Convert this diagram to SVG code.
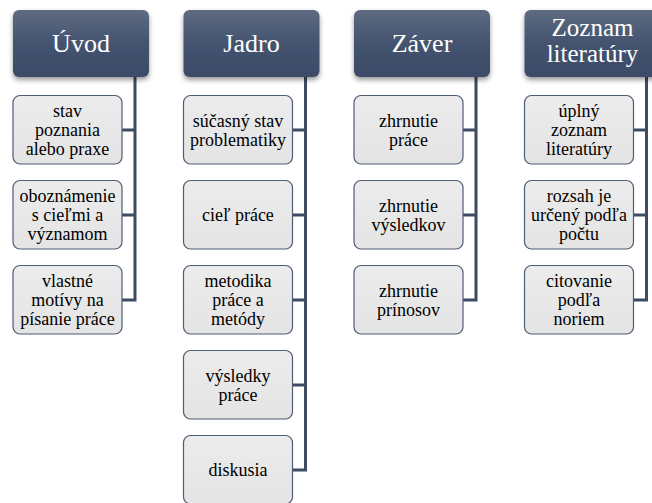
<svg xmlns="http://www.w3.org/2000/svg" width="652" height="503" viewBox="0 0 652 503">
<defs>
<linearGradient id="hg" x1="0" y1="0" x2="0" y2="1">
<stop offset="0" stop-color="#5e6b82"/>
<stop offset="0.5" stop-color="#44536f"/>
<stop offset="1" stop-color="#3c4b68"/>
</linearGradient>
<linearGradient id="cg" x1="0" y1="0" x2="0" y2="1">
<stop offset="0" stop-color="#ececec"/>
<stop offset="1" stop-color="#e4e4e4"/>
</linearGradient>
<filter id="sh" x="-10%" y="-10%" width="120%" height="130%">
<feDropShadow dx="0" dy="3" stdDeviation="2.5" flood-color="#000" flood-opacity="0.4"/>
</filter>
</defs>
<style>
.hd{fill:url(#hg);filter:url(#sh)}
.ch{fill:url(#cg);stroke:#4f5d75;stroke-width:1.2}
.cn{fill:none;stroke:#3d4b63;stroke-width:3}
</style>
<rect width="652" height="503" fill="#fff"/>
<g id="connectors">
<path class="cn" d="M135 77V300.5M122 130H136.5M122 215H136.5M122 300H136.5"/>
<path class="cn" d="M305.5 77V470.5M292.5 130H307M292.5 215H307M292.5 300H307M292.5 385H307M292.5 470H307"/>
<path class="cn" d="M476 77V300.5M463 130H477.5M463 215H477.5M463 300H477.5"/>
<path class="cn" d="M646.5 77V300.5M633.5 130H648M633.5 215H648M633.5 300H648"/>
</g>
<g font-family="'Liberation Serif', 'Times New Roman', serif" text-anchor="middle">
<g id="uvod">
<rect class="hd" x="13" y="10" width="136" height="67" rx="6"/>
<text x="81" y="52" font-size="26" fill="#fff">Úvod</text>
</g>
<g id="uvod-1"><rect class="ch" x="13" y="95.5" width="109" height="68.5" rx="7"/>
<text font-size="18"><tspan x="67.5" y="117">stav</tspan><tspan x="67.5" y="136">poznania</tspan><tspan x="67.5" y="155">alebo praxe</tspan></text></g>
<g id="uvod-2"><rect class="ch" x="13" y="180.5" width="109" height="68.5" rx="7"/>
<text font-size="18"><tspan x="67.5" y="202">oboznámenie</tspan><tspan x="67.5" y="221">s cieľmi a</tspan><tspan x="67.5" y="240">významom</tspan></text></g>
<g id="uvod-3"><rect class="ch" x="13" y="265.5" width="109" height="68.5" rx="7"/>
<text font-size="18"><tspan x="67.5" y="287">vlastné</tspan><tspan x="67.5" y="306">motívy na</tspan><tspan x="67.5" y="325">písanie práce</tspan></text></g>

<g id="jadro">
<rect class="hd" x="183.5" y="10" width="136" height="67" rx="6"/>
<text x="251.5" y="52" font-size="26" fill="#fff">Jadro</text>
</g>
<g id="jadro-1"><rect class="ch" x="183.5" y="95.5" width="109" height="68.5" rx="7"/>
<text font-size="18"><tspan x="238" y="126.5">súčasný stav</tspan><tspan x="238" y="145.5">problematiky</tspan></text></g>
<g id="jadro-2"><rect class="ch" x="183.5" y="180.5" width="109" height="68.5" rx="7"/>
<text font-size="18"><tspan x="238" y="221">cieľ práce</tspan></text></g>
<g id="jadro-3"><rect class="ch" x="183.5" y="265.5" width="109" height="68.5" rx="7"/>
<text font-size="18"><tspan x="238" y="287">metodika</tspan><tspan x="238" y="306">práce a</tspan><tspan x="238" y="325">metódy</tspan></text></g>
<g id="jadro-4"><rect class="ch" x="183.5" y="350.5" width="109" height="68.5" rx="7"/>
<text font-size="18"><tspan x="238" y="381.5">výsledky</tspan><tspan x="238" y="400.5">práce</tspan></text></g>
<g id="jadro-5"><rect class="ch" x="183.5" y="435.5" width="109" height="68.5" rx="7"/>
<text font-size="18"><tspan x="238" y="476">diskusia</tspan></text></g>

<g id="zaver">
<rect class="hd" x="354" y="10" width="136" height="67" rx="6"/>
<text x="422" y="52" font-size="26" fill="#fff">Záver</text>
</g>
<g id="zaver-1"><rect class="ch" x="354" y="95.5" width="109" height="68.5" rx="7"/>
<text font-size="18"><tspan x="408.5" y="126.5">zhrnutie</tspan><tspan x="408.5" y="145.5">práce</tspan></text></g>
<g id="zaver-2"><rect class="ch" x="354" y="180.5" width="109" height="68.5" rx="7"/>
<text font-size="18"><tspan x="408.5" y="211.5">zhrnutie</tspan><tspan x="408.5" y="230.5">výsledkov</tspan></text></g>
<g id="zaver-3"><rect class="ch" x="354" y="265.5" width="109" height="68.5" rx="7"/>
<text font-size="18"><tspan x="408.5" y="296.5">zhrnutie</tspan><tspan x="408.5" y="315.5">prínosov</tspan></text></g>

<g id="zoznam">
<rect class="hd" x="524.5" y="10" width="136" height="67" rx="6"/>
<text font-size="25" fill="#fff"><tspan x="592.5" y="36">Zoznam</tspan><tspan x="592.5" y="62">literatúry</tspan></text>
</g>
<g id="zoznam-1"><rect class="ch" x="524.5" y="95.5" width="109" height="68.5" rx="7"/>
<text font-size="18"><tspan x="579" y="117">úplný</tspan><tspan x="579" y="136">zoznam</tspan><tspan x="579" y="155">literatúry</tspan></text></g>
<g id="zoznam-2"><rect class="ch" x="524.5" y="180.5" width="109" height="68.5" rx="7"/>
<text font-size="18"><tspan x="579" y="202">rozsah je</tspan><tspan x="579" y="221">určený podľa</tspan><tspan x="579" y="240">počtu</tspan></text></g>
<g id="zoznam-3"><rect class="ch" x="524.5" y="265.5" width="109" height="68.5" rx="7"/>
<text font-size="18"><tspan x="579" y="287">citovanie</tspan><tspan x="579" y="306">podľa</tspan><tspan x="579" y="325">noriem</tspan></text></g>
</g>
</svg>
